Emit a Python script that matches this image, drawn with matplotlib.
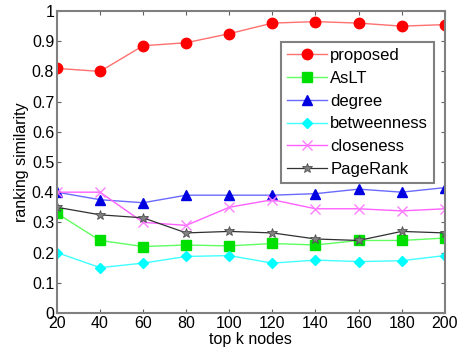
import matplotlib
matplotlib.use("Agg")
import matplotlib.pyplot as plt

plt.rcParams['font.family'] = ['Liberation Sans', 'DejaVu Sans']

k = [20, 40, 60, 80, 100, 120, 140, 160, 180, 200]
proposed = [0.81, 0.80, 0.885, 0.895, 0.925, 0.96, 0.965, 0.96, 0.95, 0.955]
aslt = [0.33, 0.24, 0.22, 0.225, 0.222, 0.23, 0.225, 0.24, 0.24, 0.248]
degree = [0.40, 0.375, 0.365, 0.39, 0.39, 0.39, 0.395, 0.41, 0.40, 0.415]
betweenness = [0.20, 0.15, 0.165, 0.187, 0.19, 0.165, 0.175, 0.17, 0.173, 0.19]
closeness = [0.40, 0.40, 0.30, 0.29, 0.35, 0.375, 0.345, 0.345, 0.338, 0.345]
pagerank = [0.35, 0.325, 0.315, 0.265, 0.27, 0.265, 0.245, 0.24, 0.27, 0.265]

fig = plt.figure(figsize=(4.59, 3.56), dpi=100)
ax = fig.add_axes([0.124, 0.121, 0.845, 0.848])

ax.plot(k, proposed, color='#ff7070', marker='o', markersize=7.5, markerfacecolor='red', markeredgecolor='red', lw=1, label='proposed')
ax.plot(k, aslt, color='#60ff60', marker='s', markersize=6.5, markerfacecolor='#00e000', markeredgecolor='#00e000', lw=1, label='AsLT')
ax.plot(k, degree, color='#6a6aff', marker='^', markersize=7.5, markerfacecolor='#0000e0', markeredgecolor='#0000e0', lw=1, label='degree')
ax.plot(k, betweenness, color='#40ffff', marker='D', markersize=5.5, markerfacecolor='cyan', markeredgecolor='cyan', lw=1, label='betweenness')
ax.plot(k, closeness, color='#ff60ff', marker='x', markersize=7, markeredgecolor='#ff80ff', lw=1, label='closeness')
ax.plot(k, pagerank, color='#303030', marker='*', markersize=7, markerfacecolor='#808080', markeredgecolor='#505050', markeredgewidth=0.6, lw=0.9, label='PageRank')

ax.set_xlim(20, 200)
ax.set_ylim(0, 1)
ax.set_xticks(k)
ax.set_yticks([i / 10 for i in range(11)])
ax.set_yticklabels(['0', '0.1', '0.2', '0.3', '0.4', '0.5', '0.6', '0.7', '0.8', '0.9', '1'])
ax.tick_params(direction='in', top=True, right=True, labelsize=11.5, length=3, color='#606060', pad=2)
for s in ax.spines.values():
    s.set_color('#808080')
    s.set_linewidth(1.5)
ax.set_xlabel('top k nodes', fontsize=11.5, labelpad=1)
ax.set_ylabel('ranking similarity', fontsize=11.5, labelpad=2)

leg = ax.legend(loc='upper right', bbox_to_anchor=(0.972, 0.897), fontsize=12, fancybox=False,
                edgecolor='#808080', framealpha=1, handlelength=2.4, handletextpad=0.2,
                labelspacing=0.47, borderpad=0.35, borderaxespad=0)
leg.get_frame().set_linewidth(1.5)

fig.savefig('out.png', dpi=100)
